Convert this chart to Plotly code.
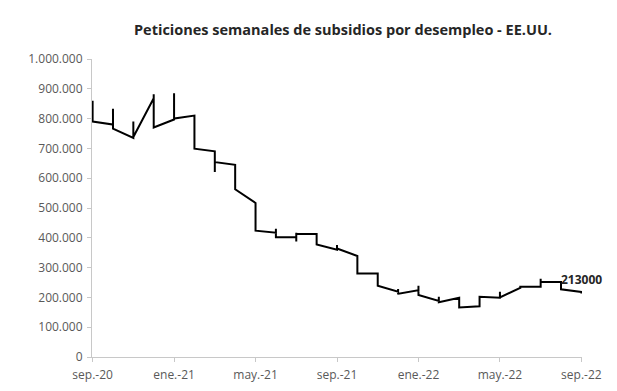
import plotly.graph_objects as go

# Month labels for the x axis (every 4 months)
tick_months = [0, 4, 8, 12, 16, 20, 24]
tick_labels = ["sep.-20", "ene.-21", "may.-21", "sep.-21", "ene.-22", "may.-22", "sep.-22"]

# Month index (0 = sep-20) of each weekly observation
week_month = [
    0, 0, 0, 0,
    1, 1, 1, 1,
    2, 2, 2,
    3, 3, 3, 3,
    4, 4, 4,
    5, 5, 5, 5,
    6, 6, 6, 6,
    7, 7, 7, 7,
    8, 8, 8, 8,
    9, 9, 9, 9,
    10, 10, 10, 10,
    11, 11, 11, 11,
    12, 12, 12,
    13, 13, 13, 13,
    14, 14, 14, 14,
    15, 15, 15, 15,
    16, 16, 16, 16,
    17, 17, 17,
    18, 18, 18, 18,
    19, 19, 19, 19,
    20, 20, 20, 20,
    21, 21, 21, 21,
    22, 22, 22, 22,
    23, 23, 23, 23,
    24, 24,
]

# Weekly initial jobless claims
weekly_claims = [
    860000, 845000, 820000, 790000,
    780000, 833000, 800000, 766000,
    735000, 790000, 738000,
    868000, 882000, 790000, 770000,
    797000, 885000, 800000,
    810000, 760000, 730000, 699000,
    690000, 680000, 621000, 654000,
    645000, 600000, 575000, 563000,
    517000, 480000, 440000, 424000,
    417000, 430000, 410000, 402000,
    402000, 388000, 417000, 413000,
    413000, 400000, 385000, 378000,
    360000, 376000, 364000,
    339000, 300000, 290000, 280000,
    280000, 268000, 250000, 239000,
    219000, 228000, 210000, 212000,
    224000, 239000, 215000, 208000,
    188000, 202000, 184000,
    199000, 180000, 170000, 166000,
    170000, 185000, 200000, 202000,
    199000, 219000, 205000, 200000,
    232000, 229000, 235000, 236000,
    236000, 263000, 255000, 252000,
    252000, 250000, 240000, 227000,
    218000, 213000,
]

last_label = "213000"

fig = go.Figure()
fig.add_trace(go.Scatter(
    x=week_month, y=weekly_claims, mode="lines",
    line=dict(color="black", width=2),
    showlegend=False, hoverinfo="skip",
))

fig.add_annotation(
    x=week_month[-1], y=weekly_claims[-1], text="<b>" + last_label + "</b>",
    showarrow=False, yanchor="bottom", xanchor="center", yshift=4,
    font=dict(family="Open Sans, Liberation Sans, sans-serif", size=12, color="#262626"),
)

axis_grey = "#c8c8c8"
tick_font = dict(family="Open Sans, Liberation Sans, sans-serif", size=12, color="#595959")

fig.update_layout(
    width=617, height=391,
    margin=dict(l=84, r=43, t=51, b=42),
    paper_bgcolor="white", plot_bgcolor="white",
    separators=",.",
    title=dict(
        text="<b>Peticiones semanales de subsidios por desempleo - EE.UU.</b>",
        x=335 / 617, xanchor="center", y=1 - 22 / 391, yanchor="middle",
        font=dict(family="Open Sans, Liberation Sans, sans-serif", size=14.5, color="#262626"),
    ),
    xaxis=dict(
        range=[-0.03, 24.03], tickmode="array", tickvals=tick_months, ticktext=tick_labels,
        showgrid=False, zeroline=False, showline=True, linecolor=axis_grey, linewidth=1,
        ticks="outside", ticklen=4, tickcolor=axis_grey, tickfont=tick_font,
        ticklabelstandoff=3,
    ),
    yaxis=dict(
        range=[0, 1000000], tickmode="linear", tick0=0, dtick=100000, tickformat=",d",
        showgrid=False, zeroline=False, showline=True, linecolor=axis_grey, linewidth=1,
        ticks="outside", ticklen=4, tickcolor=axis_grey, tickfont=tick_font,
        ticklabelstandoff=2,
    ),
)

fig.write_html("out.html")
